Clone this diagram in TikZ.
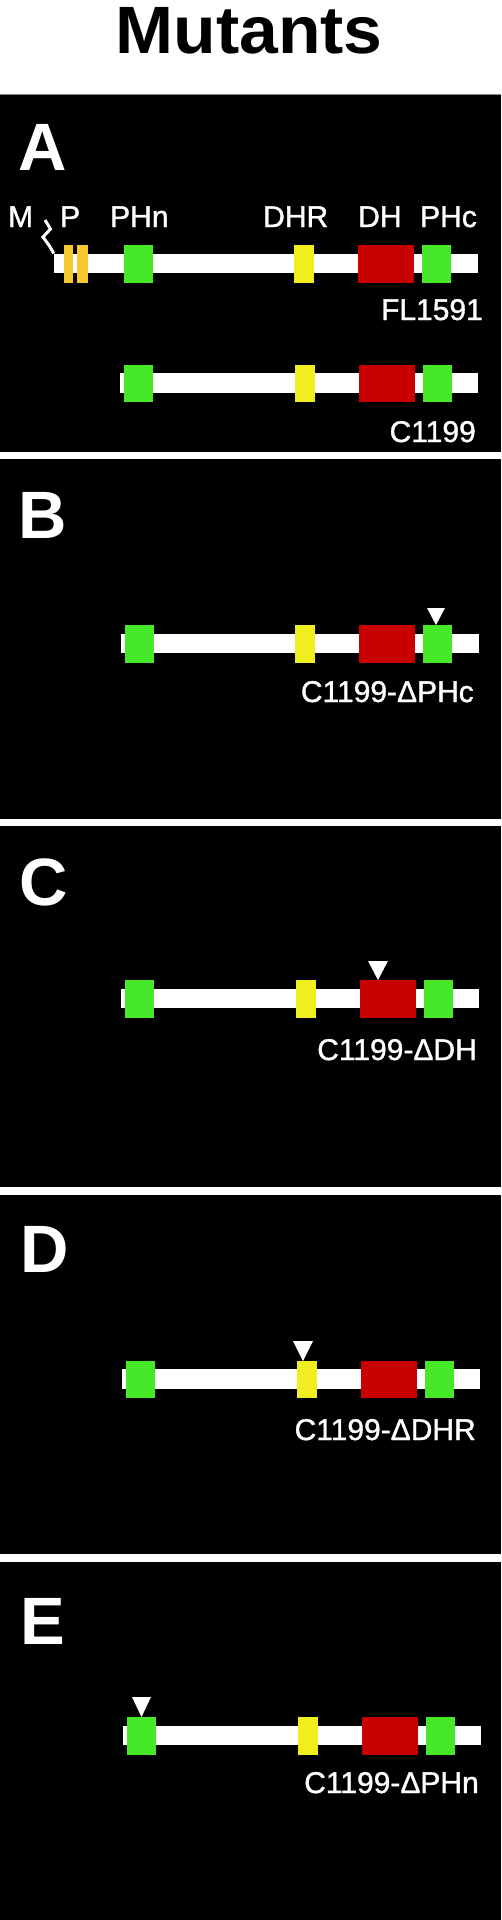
\documentclass[tikz,border=0pt]{standalone}
\usepackage{fontspec}
\usepackage{graphicx}
\setmainfont{Liberation Sans}
\newfontfamily\labfont[FakeBold=1.2]{Liberation Sans}
\definecolor{pgreen}{RGB}{70,232,40}
\definecolor{pyellow}{RGB}{240,238,30}
\definecolor{pred}{RGB}{200,0,0}
\definecolor{pgold}{RGB}{245,200,50}
\newcommand\mycons[3]{%
  \pgfmathsetmacro\mycbar{299+#2}%
  \node[barn,minimum width=358pt] (#1bar) at (\mycbar,#3) {};
  \pgfmathsetmacro\mycphn{138.5+#2}%
  \node[dom,fill=pgreen,minimum width=29pt] (#1phn) at (\mycphn,#3+0.5) {};
  \pgfmathsetmacro\mycdhr{304.5+#2}%
  \node[dom,fill=pyellow,minimum width=20pt] (#1dhr) at (\mycdhr,#3+0.5) {};
  \pgfmathsetmacro\mycdh{386.5+#2}%
  \node[dom,fill=pred,minimum width=56pt] (#1dh) at (\mycdh,#3+0.5) {};
  \pgfmathsetmacro\mycphc{437+#2}%
  \node[dom,fill=pgreen,minimum width=29pt] (#1phc) at (\mycphc,#3+0.5) {};
}
\begin{document}
\begin{tikzpicture}[x=1pt,y=-1pt,
  barn/.style={rectangle,fill=white,draw=none,inner sep=0pt,minimum height=19.5pt},
  dom/.style={rectangle,draw=none,inner sep=0pt,minimum height=37.5pt},
  panel/.style={font=\fontsize{67}{67}\selectfont\bfseries,text=white,inner sep=0pt,anchor=base west},
  lab/.style={font=\fontsize{30}{30}\labfont,text=white,inner sep=0pt},
  sep/.style={draw=white,line width=7.5pt},
  zig/.style={draw=white,line width=3pt,line join=miter},
  marker/.style={fill=white,draw=none}]
\useasboundingbox (0,0) rectangle (501,1920);
\fill[white] (0,0) rectangle (501,94);
\fill[black] (0,94) rectangle (501,1920);
\draw[gray,line width=1pt] (0,94.5) -- (501,94.5);
% title
\node[font=\fontsize{67}{67}\selectfont\bfseries,text=black,inner sep=0pt,anchor=base] (title) at (249,53) {\scalebox{1.04}[1]{Mutants}};
% separators
\coordinate (s1l) at (0,455.5); \coordinate (s1r) at (501,455.5);
\coordinate (s2l) at (0,822.5); \coordinate (s2r) at (501,822.5);
\coordinate (s3l) at (0,1191); \coordinate (s3r) at (501,1191);
\coordinate (s4l) at (0,1558); \coordinate (s4r) at (501,1558);
\draw[sep] (s1l) -- (s1r);
\draw[sep] (s2l) -- (s2r);
\draw[sep] (s3l) -- (s3r);
\draw[sep] (s4l) -- (s4r);
% panel letters
\node[panel] (pA) at (18,170) {A};
\node[panel] (pB) at (18,538) {B};
\node[panel] (pC) at (19,905) {C};
\node[panel] (pD) at (20,1272) {D};
\node[panel] (pE) at (20,1644) {E};
% panel A: FL1591
\node[lab,anchor=base west] (lM) at (8,227) {M};
\node[lab,anchor=base west] (lP) at (60,227) {P};
\node[lab,anchor=base west] (lPHn) at (110,227) {PHn};
\node[lab,anchor=base west] (lDHR) at (263,227) {DHR};
\node[lab,anchor=base west] (lDH) at (358,227) {DH};
\node[lab,anchor=base west] (lPHc) at (420,227) {PHc};
\node[barn,minimum width=424pt] (flbar) at (266,263.5) {};
\node[dom,fill=pgold,minimum width=9.5pt] (flp1) at (68.5,264) {};
\node[dom,fill=pgold,minimum width=11pt] (flp2) at (82,264) {};
\node[dom,fill=pgreen,minimum width=29pt] (flphn) at (138.5,264) {};
\node[dom,fill=pyellow,minimum width=20pt] (fldhr) at (304,264) {};
\node[dom,fill=pred,minimum width=56pt] (fldh) at (386,264) {};
\node[dom,fill=pgreen,minimum width=29pt] (flphc) at (436.5,264) {};
\coordinate (zs) at (45,220);
\draw[zig] (zs) -- (50.5,229) -- (43,237) -- (49.5,246) -- (flbar.north west);
\node[lab,anchor=base east] (lFL) at (483,320) {FL1591};
% panel A: C1199
\mycons{ca}{0}{383}
\node[lab,anchor=base east] (lC) at (476,442) {C1199};
% panel B
\mycons{cb}{0.5}{643.5}
\coordinate (tB) at (436,625);
\fill[marker] (tB) -- ++(-9,-17) -- ++(18,0) -- cycle;
\node[lab,anchor=base east] (lB) at (474,702) {C1199-ΔPHc};
% panel C
\mycons{cc}{1}{998.5}
\coordinate (tC) at (378,980);
\fill[marker] (tC) -- ++(-10,-19) -- ++(20,0) -- cycle;
\node[lab,anchor=base east] (lCC) at (477,1060) {C1199-ΔDH};
% panel D
\mycons{cd}{2}{1379}
\coordinate (tD) at (303,1361);
\fill[marker] (tD) -- ++(-10,-20) -- ++(20,0) -- cycle;
\node[lab,anchor=base east] (lD) at (476,1440) {C1199-ΔDHR};
% panel E
\mycons{ce}{3}{1735.5}
\coordinate (tE) at (141.5,1717);
\fill[marker] (tE) -- ++(-9.5,-20) -- ++(19,0) -- cycle;
\node[lab,anchor=base east] (lE) at (479,1793) {C1199-ΔPHn};
\end{tikzpicture}
\end{document}
